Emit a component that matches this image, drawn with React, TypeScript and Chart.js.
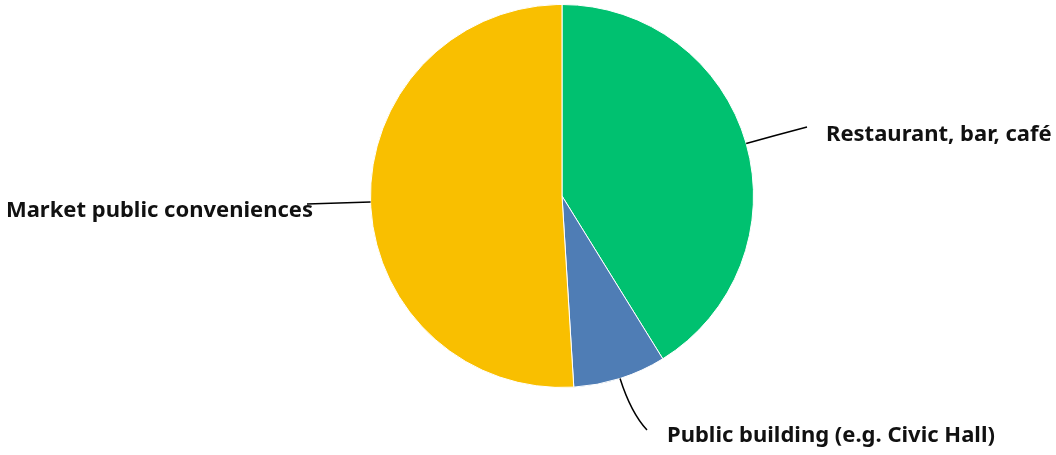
import React, { useEffect, useRef } from "react";
import { Chart, registerables } from "chart.js";

Chart.register(...registerables);

const categories = ["Restaurant, bar, café", "Public building (e.g. Civic Hall)", "Market public conveniences"];
const values = [21, 4, 26];
const colors = ["#00C170", "#4F7DB5", "#F9BF00"];

// label layout: end point of leader line relative to pie centre, text offset, alignment, control distance
const labelLayout = [
  { ex: 245, ey: -69, tx: 19, ty: 8, align: "left", ctrl: 30 },
  { ex: 85, ey: 234, tx: 20, ty: 6, align: "left", ctrl: 36 },
  { ex: -255, ey: 8, tx: 6, ty: 7, align: "right", ctrl: 30 },
];

const labelPlugin = {
  id: "leaderLabels",
  afterDraw(chart: any) {
    const ctx = chart.ctx;
    const meta = chart.getDatasetMeta(0);
    ctx.save();
    meta.data.forEach((arc: any, i: number) => {
      const p = arc.getProps(["x", "y", "startAngle", "endAngle", "outerRadius"], true);
      const mid = (p.startAngle + p.endAngle) / 2;
      const dx = Math.cos(mid);
      const dy = Math.sin(mid);
      const sx = p.x + dx * p.outerRadius;
      const sy = p.y + dy * p.outerRadius;
      const L = labelLayout[i];
      const ex = p.x + L.ex;
      const ey = p.y + L.ey;
      const cx = sx + dx * L.ctrl;
      const cy = sy + dy * L.ctrl;
      ctx.beginPath();
      ctx.moveTo(sx, sy);
      ctx.quadraticCurveTo(cx, cy, ex, ey);
      ctx.strokeStyle = "#000";
      ctx.lineWidth = 1.5;
      ctx.stroke();
      ctx.font = "700 22px 'Noto Sans'";
      ctx.fillStyle = "#111";
      ctx.textBaseline = "middle";
      ctx.textAlign = L.align;
      ctx.fillText(categories[i], ex + L.tx, ey + L.ty);
    });
    ctx.restore();
  },
};

export default function App() {
  const ref = useRef<HTMLCanvasElement>(null);
  useEffect(() => {
    if (!ref.current) return;
    const chart = new Chart(ref.current, {
      type: "pie",
      data: {
        labels: categories,
        datasets: [
          {
            data: values,
            backgroundColor: colors,
            borderColor: "#ffffff",
            borderWidth: 1,
          },
        ],
      },
      options: {
        animation: false,
        responsive: false,
        layout: { padding: { left: 370, right: 302, top: 4, bottom: 67 } },
        plugins: { legend: { display: false }, tooltip: { enabled: false } },
      },
      plugins: [labelPlugin],
    });
    return () => chart.destroy();
  }, []);
  return (
    <div style={{ position: "fixed", left: 0, top: 0, width: 1056, height: 455, background: "#fff" }}>
      <canvas ref={ref} width={1056} height={455} style={{ width: 1056, height: 455 }} />
    </div>
  );
}
